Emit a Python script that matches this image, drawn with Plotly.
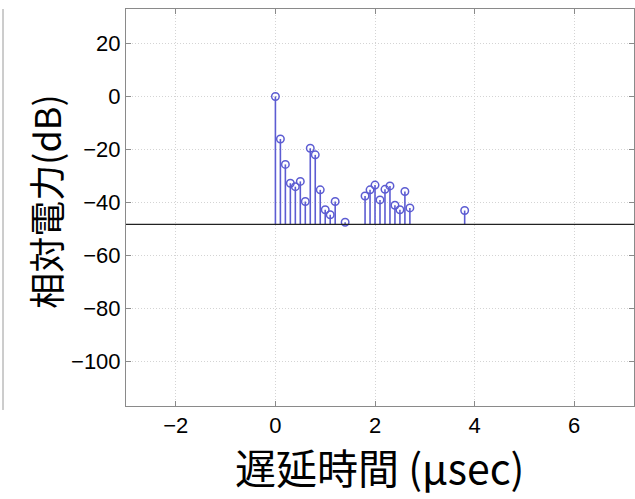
import plotly.graph_objects as go

# Delay profile: path delays (μsec) and relative power (dB)
delay_us = [0.0, 0.1, 0.2, 0.3, 0.4, 0.5, 0.6, 0.7, 0.8, 0.9, 1.0, 1.1, 1.2, 1.4,
            1.8, 1.9, 2.0, 2.1, 2.2, 2.3, 2.4, 2.5, 2.6, 2.7, 3.8]
power_db = [0.0, -16.0, -25.6, -32.7, -34.0, -32.0, -39.6, -19.5, -22.0, -35.2, -42.7, -44.6, -39.6, -47.4,
            -37.5, -35.2, -33.4, -39.0, -35.0, -33.7, -41.0, -42.7, -35.8, -42.0, -43.0]
noise_floor_db = -48.2

x_ticks = [-2, 0, 2, 4, 6]
y_ticks = [20, 0, -20, -40, -60, -80, -100]
x_range = [-3, 7.2]
y_range = [-116.7, 33]

stem_color = "#5c5cd2"

# stems from the noise floor up to each path level
stem_x, stem_y = [], []
for d, p in zip(delay_us, power_db):
    stem_x += [d, d, None]
    stem_y += [noise_floor_db, p, None]

fig = go.Figure()
fig.add_trace(go.Scatter(x=stem_x, y=stem_y, mode="lines",
                         line=dict(color=stem_color, width=1.6),
                         hoverinfo="skip", showlegend=False))
fig.add_trace(go.Scatter(x=delay_us, y=power_db, mode="markers",
                         marker=dict(symbol="circle-open", size=7.5,
                                     color=stem_color, line=dict(width=1.5)),
                         showlegend=False))

# noise floor line across the full width
fig.add_shape(type="line", xref="paper", x0=0, x1=1, yref="y",
              y0=noise_floor_db, y1=noise_floor_db,
              line=dict(color="#222222", width=1.3))

# edge of the neighbouring panel on the left
fig.add_shape(type="line", xref="paper", yref="paper",
              x0=-0.2421, x1=-0.2421, y0=-0.01, y1=1.0,
              line=dict(color="#9a9a9a", width=1))

axis_common = dict(showline=True, linecolor="#8a8a8a", linewidth=1,
                   mirror="allticks", ticks="inside", ticklen=5,
                   tickcolor="#8a8a8a", showgrid=True,
                   gridcolor="#d4d4d4", griddash="1px,2px", gridwidth=1,
                   zeroline=False,
                   tickfont=dict(family="Liberation Sans, Arial", size=22,
                                 color="#000000"))

fig.update_xaxes(range=x_range, tickvals=x_ticks, **axis_common)
fig.update_yaxes(range=y_range, tickvals=y_ticks, **axis_common)

fig.add_annotation(text="遅延時間 (μsec)", xref="paper", yref="paper",
                   x=0.4985, y=-0.152, xanchor="center", yanchor="middle",
                   showarrow=False,
                   font=dict(family="Noto Sans CJK JP", size=41, color="#000000"))
fig.add_annotation(text="相対電力(dB)", xref="paper", yref="paper",
                   x=-0.161, y=0.515, xanchor="center", yanchor="middle",
                   textangle=-90, showarrow=False,
                   font=dict(family="Noto Sans CJK JP", size=36, color="#000000"))

fig.update_layout(width=635, height=499,
                  margin=dict(l=126, r=1, t=9, b=93),
                  plot_bgcolor="white", paper_bgcolor="white")

fig.write_html("out.html")
